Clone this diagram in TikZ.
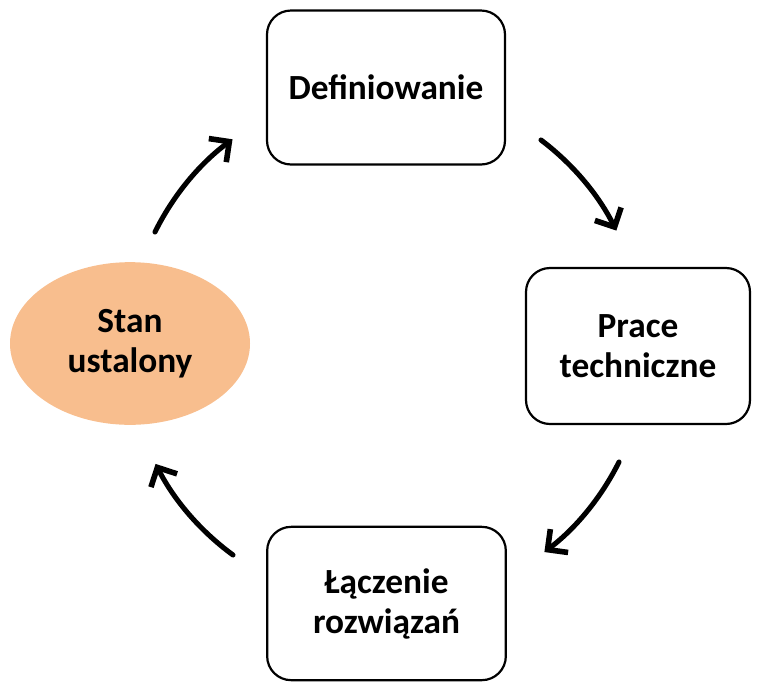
\documentclass[tikz,border=0pt]{standalone}
\usepackage{fontspec}
\setmainfont{Carlito}
\usetikzlibrary{arrows.meta,shapes.geometric}
\definecolor{stanfill}{HTML}{F8BE8E}
\tikzset{
  stagebox/.style={draw=black, line width=1.65pt, rounded corners=18pt,
    minimum width=178.5pt, minimum height=115.5pt, align=center,
    font=\fontsize{26.5}{30}\selectfont\bfseries, fill=white},
  stateoval/.style={ellipse, fill=stanfill, minimum width=180pt,
    minimum height=122pt, inner sep=0pt, align=center,
    font=\fontsize{26.5}{30}\selectfont\bfseries},
  cyclearrow/.style={line width=3.8pt, line cap=round,
    -{Straight Barb[length=11pt, width=22pt, line width=4.2pt]}}
}
\begin{document}
\begin{tikzpicture}[x=0.75pt, y=-0.75pt]
  \useasboundingbox (0,0) rectangle (765,683);
  \node[stagebox] (def) at (386,87.5) {Definiowanie};
  \node[stagebox, minimum width=168pt, minimum height=117pt] (prace) at (638,346) {Prace\\techniczne};
  \node[stagebox, minimum width=179pt, minimum height=115pt] (lacz) at (386.5,603.5) {Łączenie\\rozwiązań};
  \node[stateoval] (stan) at (130,343.5) {Stan\\ustalony};
  % the four arrows lie on one circle around the centre of the cycle
  \draw[cyclearrow] (155,232) arc[start angle=206.3, end angle=233.5, radius=257];
  \draw[cyclearrow] (541,140) arc[start angle=-53.0, end angle=-26.5, radius=257];
  \draw[cyclearrow] (619,462) arc[start angle=26.5, end angle=52.8, radius=257];
  \draw[cyclearrow] (233,555) arc[start angle=126.2, end angle=153.1, radius=257];
\end{tikzpicture}
\end{document}
